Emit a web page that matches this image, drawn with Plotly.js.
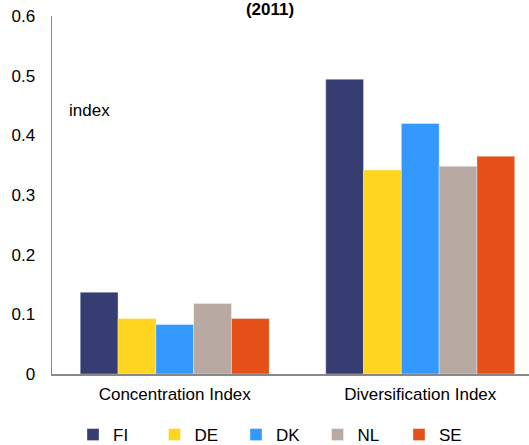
<!DOCTYPE html>
<html>
<head>
<meta charset="utf-8">
<script src="https://cdn.plot.ly/plotly-3.0.1.min.js"></script>
<style>html,body{margin:0;padding:0;background:#fff;}#chart{width:529px;height:445px;}</style>
</head>
<body>
<div id="chart"></div>
<script>
const categories = ["Concentration Index", "Diversification Index"];
const seriesNames = ["FI", "DE", "DK", "NL", "SE"];
const FI = [0.137, 0.494];
const DE = [0.093, 0.342];
const DK = [0.083, 0.420];
const NL = [0.118, 0.348];
const SE = [0.093, 0.365];
const colors = ["#363d72", "#ffd520", "#3399ff", "#b8aaa2", "#e55118"];
const yTicks = [0, 0.1, 0.2, 0.3, 0.4, 0.5, 0.6];
const yTickLabels = ["0", "0.1", "0.2", "0.3", "0.4", "0.5", "0.6"];

const values = [FI, DE, DK, NL, SE];
const traces = seriesNames.map((n, i) => ({
  type: "bar",
  name: n,
  x: categories,
  y: values[i],
  marker: {color: colors[i], line: {color: "rgba(255,255,255,0.6)", width: 0.6}},
  hoverinfo: "skip"
}));

const font = {family: "Liberation Sans, Arial, sans-serif", size: 17, color: "#000"};
const layout = {
  width: 529, height: 445,
  margin: {l: 52, r: 0, t: 16, b: 71, pad: 0, autoexpand: false},
  paper_bgcolor: "#fff", plot_bgcolor: "#fff",
  font: font,
  barmode: "group",
  bargap: 0.23,
  bargroupgap: 0,
  showlegend: true,
  title: {text: "<b>(2011)</b>", font: {family: font.family, size: 17, color: "#000"},
          xref: "container", x: 270/529, xanchor: "center", yref: "container", y: 1 - 9/445, yanchor: "middle"},
  xaxis: {
    range: [-0.5, 1.443], fixedrange: true,
    showline: true, linecolor: "#888", linewidth: 1.5,
    ticks: "", showgrid: false, zeroline: false,
    ticklabelstandoff: 4,
    tickfont: font
  },
  yaxis: {
    range: [0, 0.6], tickvals: yTicks, ticktext: yTickLabels,
    showline: true, linecolor: "#888", linewidth: 1.5,
    ticks: "", showgrid: false, zeroline: false,
    ticklabelstandoff: 12,
    tickfont: font
  },
  legend: {
    orientation: "h", xref: "container", x: 73/529, xanchor: "left",
    yref: "container", y: 1 - 435/445, yanchor: "middle",
    entrywidth: 36.5, entrywidthmode: "pixels",
    font: font, itemclick: false, traceorder: "normal"
  },
  annotations: [
    {text: "index", xref: "paper", yref: "paper", x: (67-52)/477, xanchor: "left",
     y: (374-110)/358, yanchor: "middle", showarrow: false, font: font}
  ]
};
Plotly.newPlot("chart", traces, layout, {staticPlot: true, displayModeBar: false});
</script>
</body>
</html>
